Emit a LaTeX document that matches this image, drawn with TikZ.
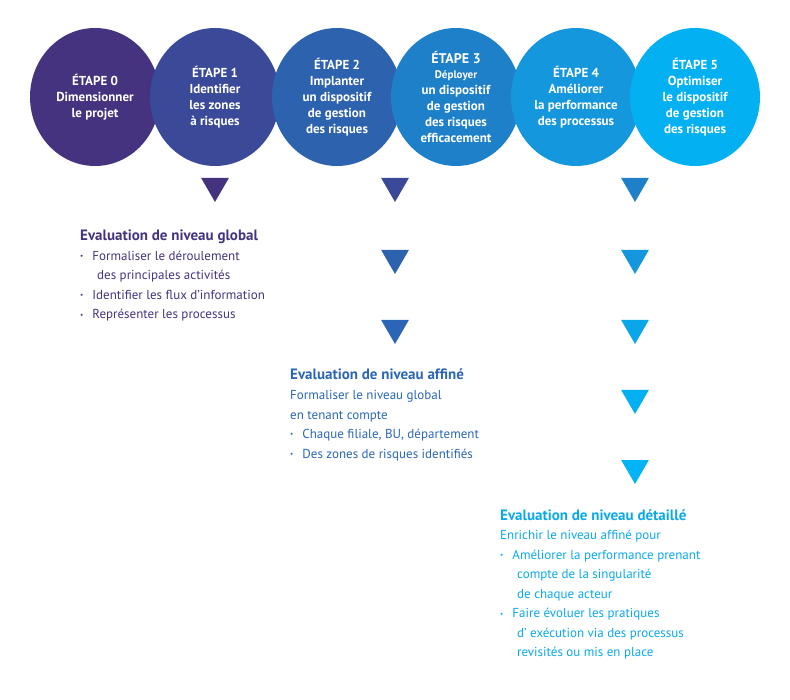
\documentclass[tikz,border=0pt]{standalone}
\usepackage{fontspec}
\setmainfont{PT Sans}
\usetikzlibrary{shapes.geometric}

\definecolor{etapeA}{HTML}{45337F}
\definecolor{etapeB}{HTML}{3A4A99}
\definecolor{etapeC}{HTML}{2D62AE}
\definecolor{etapeD}{HTML}{1E80C8}
\definecolor{etapeE}{HTML}{1597DD}
\definecolor{etapeF}{HTML}{03B1F3}
\definecolor{texteB}{HTML}{2A66B5}
\definecolor{texteC}{HTML}{0AA8EC}
\definecolor{flecheG}{HTML}{0AA6EA}
\definecolor{flecheH}{HTML}{00B4F6}

\tikzset{
    etape/.style={ellipse, fill=#1, minimum width=130pt, minimum height=138pt,
        inner sep=0pt, text=white, align=center, font=\bfseries\fontsize{13}{16}\selectfont},
    fleche/.style={isosceles triangle, isosceles triangle apex angle=60, shape border rotate=270,
        fill=#1, minimum height=24pt, inner sep=0pt},
    bloc/.style={anchor=north west, align=left, text=#1, inner sep=0pt,
        font=\fontsize{13}{19.5}\selectfont},
}
\newcommand{\puce}{\raisebox{1.5pt}{\scalebox{.55}{\textbullet}}\hspace{9pt}}
\newcommand{\titre}[1]{{\bfseries\fontsize{15}{19.5}\selectfont #1}}

\begin{document}
\begin{tikzpicture}[x=1pt,y=-1pt]
\useasboundingbox (0,0) rectangle (790,700);

%% Etapes
\node[etape=etapeA] (e0) at (95,97) {ÉTAPE 0\\Dimensionner\\le projet};
\node[etape=etapeB] (e1) at (215,97) {ÉTAPE 1\\Identifier\\les zones\\à risques};
\node[etape=etapeC] (e2) at (337,97) {ÉTAPE 2\\Implanter\\un dispositif\\de gestion\\des risques};
\node[etape=etapeD] (e3) at (456,97) {\fontsize{14}{16}\selectfont ÉTAPE 3\\[-1pt]
    \fontsize{11}{14}\selectfont Déployer\\un dispositif\\de gestion\\des risques\\efficacement};
\node[etape=etapeE] (e4) at (576,97) {ÉTAPE 4\\Améliorer\\la performance\\des processus};
\node[etape=etapeF] (e5) at (695,97) {ÉTAPE 5\\Optimiser\\le dispositif\\de gestion\\des risques};

%% Fleches
\node[fleche=etapeA] (f0) at (215,186) {};
\node[fleche=etapeB] (f1) at (395,186) {};
\node[fleche=etapeC] (f2) at (395,258) {};
\node[fleche=texteB] (f3) at (395,328) {};
\node[fleche=etapeD] (f4) at (635,186) {};
\node[fleche=etapeE] (f5) at (635,258) {};
\node[fleche=flecheG] (f6) at (635,328) {};
\node[fleche=etapeF] (f7) at (635,398) {};
\node[fleche=flecheH] (f8) at (635,468) {};

%% Evaluations
\node[bloc=etapeA] (global) at (80,230) {\titre{Evaluation de niveau global}\\
    \puce Formaliser le déroulement\\
    \hspace{17pt}des principales activités\\
    \puce Identifier les flux d’information\\
    \puce Représenter les processus};
\node[bloc=texteB] (affine) at (290,369) {\titre{Evaluation de niveau affiné}\\
    Formaliser le niveau global\\
    en tenant compte\\
    \puce Chaque filiale, BU, département\\
    \puce Des zones de risques identifiés};
\node[bloc=texteC] (detaille) at (500,509) {\titre{Evaluation de niveau détaillé}\\
    Enrichir le niveau affiné pour\\
    \puce Améliorer la performance prenant\\
    \hspace{17pt}compte de la singularité\\
    \hspace{17pt}de chaque acteur\\
    \puce Faire évoluer les pratiques\\
    \hspace{17pt}d’ exécution via des processus\\
    \hspace{17pt}revisités ou mis en place};
\end{tikzpicture}
\end{document}
